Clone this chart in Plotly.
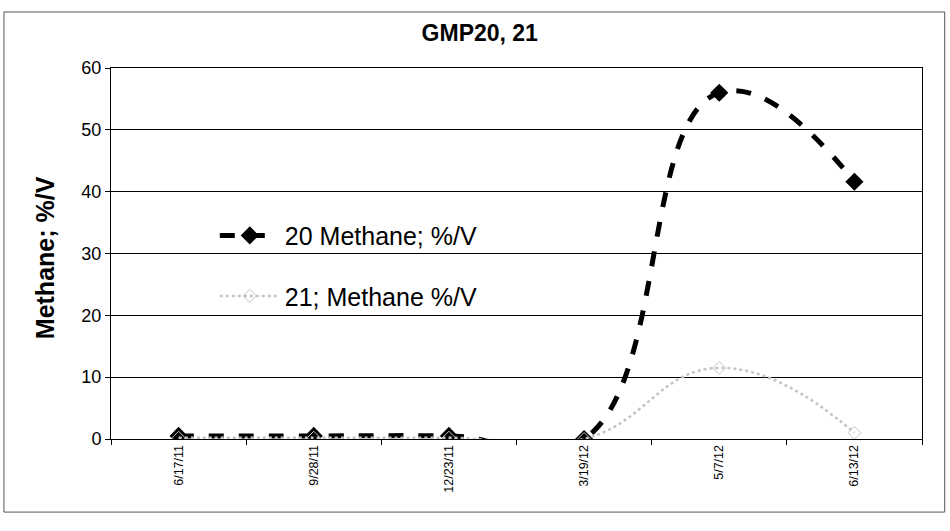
import plotly.graph_objects as go

categories = ["6/17/11", "9/28/11", "12/23/11", "3/19/12", "5/7/12", "6/13/12"]
gmp20_methane = [0.5, 0.5, 0.5, 0.0, 56.0, 41.6]
gmp21_methane = [0.2, 0.2, 0.2, 0.0, 11.5, 1.0]
y_ticks = [0, 10, 20, 30, 40, 50, 60]

fig = go.Figure()
fig.add_trace(go.Scatter(
    x=categories, y=gmp20_methane, name="20 Methane; %/V",
    mode="lines+markers", legendgroup="a",
    line=dict(color="black", width=5, dash="dash", shape="spline", smoothing=1.3),
    marker=dict(symbol="diamond", size=14, color="black"),
    cliponaxis=True,
))
fig.add_trace(go.Scatter(
    x=categories, y=gmp21_methane, name="21; Methane %/V",
    mode="lines+markers", legendgroup="b",
    line=dict(color="#c4c4c4", width=2.5, dash="dot", shape="spline", smoothing=1.3),
    marker=dict(symbol="diamond-open", size=10, color="#c4c4c4"),
    cliponaxis=True,
))

fig.update_layout(
    width=950, height=531,
    margin=dict(l=111, r=28, t=68, b=92),
    paper_bgcolor="white", plot_bgcolor="white",
    font=dict(family="Arial, Liberation Sans, sans-serif", color="black"),
    title=dict(text="<b>GMP20, 21</b>", x=0.505, xref="container", xanchor="center",
               y=1 - 33 / 531, yref="container", yanchor="middle",
               font=dict(size=23, color="black")),
    showlegend=True,
    legend=dict(x=0.128, y=0.61, xanchor="left", yanchor="top",
                bgcolor="rgba(0,0,0,0)", font=dict(size=25),
                traceorder="grouped", tracegroupgap=25, itemwidth=60),
    xaxis=dict(type="category", range=[-0.5, 5.5], tickangle=-90,
               tickfont=dict(size=12.5), showgrid=False,
               showline=True, linecolor="black", linewidth=1, mirror=True,
               ticks="outside", ticklen=5, tickson="boundaries", tickcolor="black"),
    yaxis=dict(range=[0, 60], tickvals=y_ticks, tickfont=dict(size=18),
               showgrid=True, gridcolor="black", gridwidth=1,
               showline=True, linecolor="black", linewidth=1, mirror=True,
               ticks="outside", ticklen=5, tickcolor="black", zeroline=False),
    annotations=[dict(text="<b>Methane; %/V</b>", textangle=-90, xref="paper", yref="paper",
                      x=-0.0814, y=0.49, xanchor="center", yanchor="middle",
                      showarrow=False, font=dict(size=25))],
    shapes=[dict(type="rect", xref="paper", yref="paper",
                 x0=-0.132, x1=1.028, y0=-0.197, y1=1.151,
                 line=dict(color="#555555", width=1))],
)

fig.write_html(
    "out.html",
    config={"displayModeBar": False},
    post_script="document.body.style.margin='0';document.body.style.overflow='hidden';",
)
